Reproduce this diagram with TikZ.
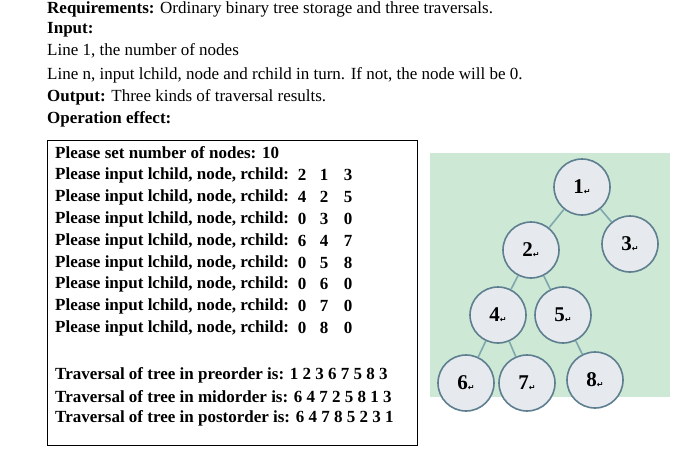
\documentclass[tikz,border=0pt]{standalone}
\usepackage{fontspec}
\setmainfont{Liberation Serif}
\newfontfamily\symf{DejaVu Sans}
\definecolor{bg}{HTML}{CDE8D4}
\definecolor{cb}{HTML}{5E7F8F}
\definecolor{cf}{HTML}{E6E9EE}
\definecolor{ec}{HTML}{7FA9AE}
\begin{document}
\begin{tikzpicture}[x=1pt,y=-1pt,
  txt/.style={anchor=west,inner sep=0pt,font=\fontsize{17}{19}\selectfont},
  bt/.style={txt,font=\fontsize{17}{19}\selectfont\bfseries},
  num/.style={inner sep=0pt,font=\fontsize{17}{19}\selectfont\bfseries},
  tn/.style={circle,draw=cb,line width=1.6pt,fill=cf,minimum size=56pt,inner sep=0pt,font=\fontsize{21}{23}\selectfont\bfseries},
  ed/.style={draw=ec,line width=1.6pt}]
\useasboundingbox (0,0) rectangle (700,450);
\node[txt] (h1) at (47,9) {\textbf{Requirements:} Ordinary binary tree storage and three traversals.};
\node[bt] (h2) at (47,30) {Input:};
\node[txt] (h3) at (47,51) {Line 1, the number of nodes};
\node[txt] (h4) at (47,75) {Line n, input lchild, node and rchild in turn. If not, the node will be 0.};
\node[txt] (h5) at (47,97) {\textbf{Output:} Three kinds of traversal results.};
\node[bt] (h6) at (47,119) {Operation effect:};
\draw[line width=0.8pt] (47,140) rectangle (417,445);
\node[bt] (b0) at (55,153) {Please set number of nodes: 10};
\foreach \y/\a/\b/\c [count=\i] in {175/2/1/3,197/4/2/5,219/0/3/0,241/6/4/7,263/0/5/8,284/0/6/0,306/0/7/0,328/0/8/0}{
  \node[bt] (p\i) at (55,\y) {Please input lchild, node, rchild:};
  \node[num] (a\i) at (302,\y) {\a};
  \node[num] (n\i) at (324,\y) {\b};
  \node[num] (c\i) at (348,\y) {\c};
}
\node[bt] (t1) at (55,375) {Traversal of tree in preorder is: 1 2 3 6 7 5 8 3};
\node[bt] (t2) at (55,397) {Traversal of tree in midorder is: 6 4 7 2 5 8 1 3};
\node[bt] (t3) at (55,418) {Traversal of tree in postorder is: 6 4 7 8 5 2 3 1};
\fill[bg] (430,153) rectangle (670,397);
\def\rt{{\symf\fontsize{8}{8}\selectfont\raisebox{-1pt}{↵}}}
\node[tn] (v1) at (582,187) {1\rt};
\node[tn] (v2) at (531,250) {2\rt};
\node[tn] (v3) at (630,244) {3\rt};
\node[tn] (v4) at (498,315) {4\rt};
\node[tn] (v5) at (563,315) {5\rt};
\node[tn] (v6) at (466,383) {6\rt};
\node[tn] (v7) at (527,383) {7\rt};
\node[tn] (v8) at (595,380) {8\rt};
\foreach \u/\v in {v1/v2,v1/v3,v2/v4,v2/v5,v4/v6,v4/v7,v5/v8}
  \draw[ed] (\u) -- (\v);
\end{tikzpicture}
\end{document}
